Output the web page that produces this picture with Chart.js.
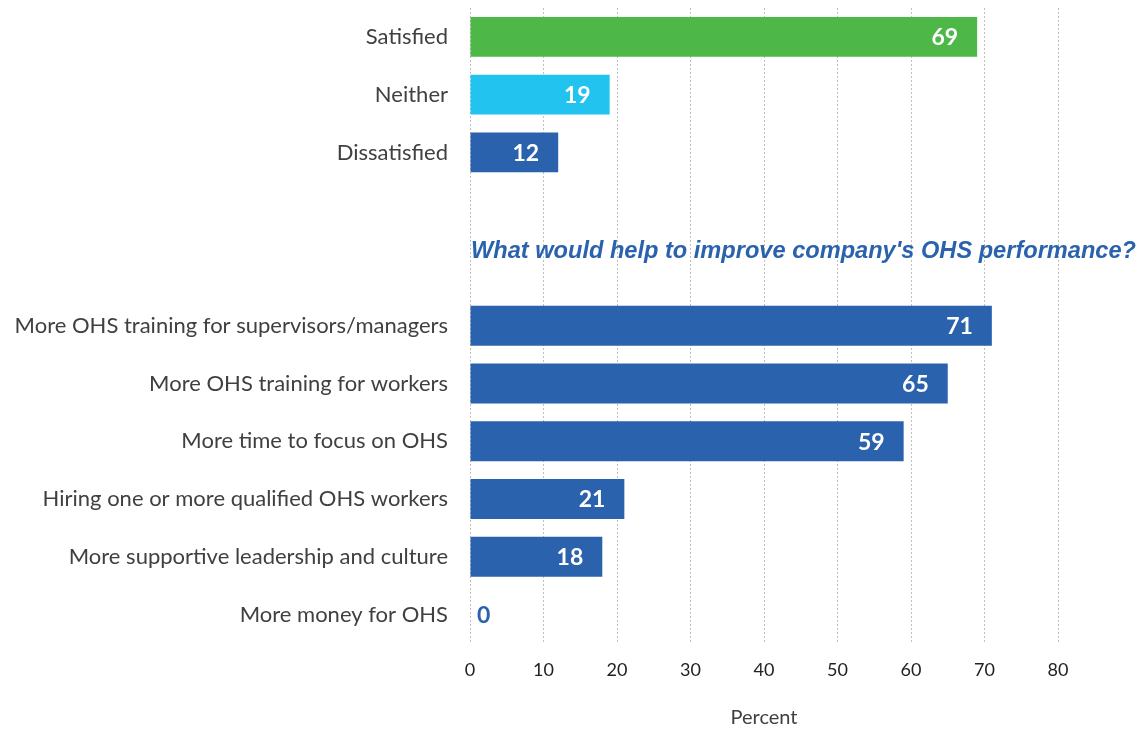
<!DOCTYPE html>
<html>
<head>
<meta charset="utf-8">
<script src="https://cdn.jsdelivr.net/npm/chart.js@4.4.0/dist/chart.umd.min.js"></script>
<style>
  html, body { margin: 0; padding: 0; background: #fff; }
  #wrap { width: 1146px; height: 732px; position: relative; }
</style>
</head>
<body>
<div id="wrap"><canvas id="grafico"></canvas></div>
<script>
const categorias = [
  "Satisfied", "Neither", "Dissatisfied", "", "",
  "More OHS training for supervisors/managers",
  "More OHS training for workers",
  "More time to focus on OHS",
  "Hiring one or more qualified OHS workers",
  "More supportive leadership and culture",
  "More money for OHS"
];
const valores = [69, 19, 12, null, null, 71, 65, 59, 21, 18, 0];
const colores = ["#4DB748", "#22C3EF", "#2A62AD", "#2A62AD", "#2A62AD",
  "#2A62AD", "#2A62AD", "#2A62AD", "#2A62AD", "#2A62AD", "#2A62AD"];
const tituloSeccion = "What would help to improve company's OHS performance?";
const ticksX = [0, 10, 20, 30, 40, 50, 60, 70, 80];

const FUENTE = "Lato, 'Open Sans', sans-serif";

// Etiquetas de valor y subtítulo dentro del área del gráfico
const etiquetas = {
  id: "etiquetas",
  afterDatasetsDraw(chart) {
    const ctx = chart.ctx;
    const meta = chart.getDatasetMeta(0);
    ctx.save();
    ctx.font = "bold 23px " + FUENTE;
    ctx.textBaseline = "middle";
    meta.data.forEach((bar, i) => {
      const v = valores[i];
      if (v === null) return;
      if (v === 0) {
        ctx.fillStyle = "#2A62AD";
        ctx.textAlign = "left";
        ctx.fillText(String(v), bar.base + 7, bar.y + 1);
      } else {
        ctx.fillStyle = "#ffffff";
        ctx.textAlign = "right";
        ctx.fillText(String(v), bar.x - 19, bar.y + 1);
      }
    });
    const y = chart.scales.y;
    const ty = (y.getPixelForValue(3) + y.getPixelForValue(4)) / 2 + 12;
    ctx.font = "italic bold 23.6px 'Liberation Sans', Arial, sans-serif";
    ctx.fillStyle = "#2A62AD";
    ctx.textAlign = "left";
    ctx.fillText(tituloSeccion, chart.chartArea.left + 1, ty);
    ctx.restore();
  }
};

new Chart(document.getElementById("grafico"), {
  type: "bar",
  data: {
    labels: categorias,
    datasets: [{
      data: valores,
      backgroundColor: colores,
      barPercentage: 0.69,
      categoryPercentage: 1
    }]
  },
  options: {
    indexAxis: "y",
    responsive: true,
    maintainAspectRatio: false,
    animation: false,
    layout: { padding: { top: 8, right: 88, bottom: 0 } },
    plugins: {
      legend: { display: false },
      tooltip: { enabled: false }
    },
    scales: {
      x: {
        min: 0,
        max: 80,
        afterBuildTicks: (s) => { s.ticks = ticksX.map(v => ({ value: v })); },
        grid: {
          color: "#BFBFBF",
          lineWidth: 1,
          drawTicks: false
        },
        border: { display: false, dash: [2, 2] },
        ticks: { color: "#222", font: { family: FUENTE, size: 18 }, padding: 16 },
        title: {
          display: true,
          text: "Percent",
          color: "#404040",
          font: { family: FUENTE, size: 20 },
          padding: { top: 9, bottom: 2 }
        }
      },
      y: {
        afterFit: (s) => {
          s.width = 470;
          s.paddingTop = 0;
          s.paddingBottom = 0;
        },
        grid: { display: false },
        border: { display: false },
        ticks: { color: "#404040", font: { family: FUENTE, size: 22 }, padding: 14 }
      }
    }
  },
  plugins: [etiquetas]
});
</script>
</body>
</html>
